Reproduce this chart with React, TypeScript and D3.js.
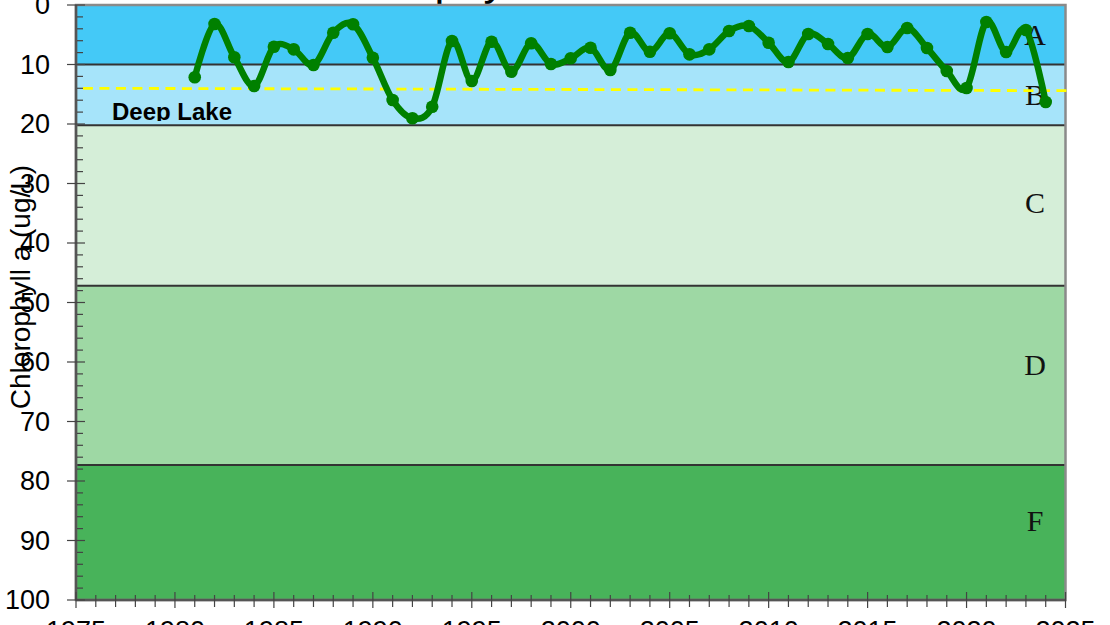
import React from "react";
import * as d3 from "d3";

const years = [1981,1982,1983,1984,1985,1986,1987,1988,1989,1990,1991,1992,1993,1994,1995,1996,1997,1998,1999,2000,2001,2002,2003,2004,2005,2006,2007,2008,2009,2010,2011,2012,2013,2014,2015,2016,2017,2018,2019,2020,2021,2022,2023,2024];
const chlA = [12.15,3.19,8.79,13.61,7.01,7.45,10.08,4.66,3.24,8.86,15.97,19.04,17.09,6.05,12.77,6.17,11.21,6.44,9.92,8.96,7.18,10.92,4.66,7.85,4.76,8.29,7.45,4.37,3.53,6.34,9.58,4.87,6.55,8.91,4.87,7.06,3.87,7.23,11.09,13.95,2.86,7.9,4.2,16.3];

const bandNames = ["A", "B", "C", "D", "F"];
const bandEdges = [0, 10, 20.2, 47.2, 77.3, 100];
const bandColors = ["#44c9f7", "#a6e4fa", "#d5eed8", "#9ed8a4", "#48b35a"];
const bandLabelAt = [5, 15, 33.2, 60.5, 86.6];

const trendYears = [1975.35, 2025.3];
const trendValues = [14.0, 14.4];

const yTicks = [0, 10, 20, 30, 40, 50, 60, 70, 80, 90, 100];
const xTicks = [1975, 1980, 1985, 1990, 1995, 2000, 2005, 2010, 2015, 2020, 2025];

export default function App() {
  const W = 1110, H = 625;
  const x = d3.scaleLinear().domain([1975, 2025]).range([76, 1065.5]);
  const y = d3.scaleLinear().domain([0, 100]).range([5, 600]);
  const [x0, x1] = x.range();
  const [y0, y1] = y.range();

  const line = d3
    .line<number>()
    .x((_, i) => x(years[i]))
    .y((d) => y(d))
    .curve(d3.curveCardinal.tension(0));

  const minorY = d3.range(0, 101, 2).filter((v) => v % 10 !== 0);
  const minorX = d3.range(1975, 2026, 1).filter((v) => v % 5 !== 0);

  return (
    <svg
      width={W}
      height={H}
      style={{ position: "absolute", left: 0, top: 0, background: "#fff" }}
      fontFamily="Arial, 'Liberation Sans', sans-serif"
    >
      <defs>
        <clipPath id="deepclip">
          <rect x={0} y={0} width={W} height={121} />
        </clipPath>
      </defs>
      {/* title (mostly off-canvas) */}
      <text x={305} y={-5.5} fontSize={44} fill="#000">
        Chlorophyll a
      </text>

      {/* bands */}
      {bandNames.map((n, i) => (
        <rect
          key={n}
          x={x0}
          y={y(bandEdges[i])}
          width={x1 - x0}
          height={y(bandEdges[i + 1]) - y(bandEdges[i])}
          fill={bandColors[i]}
        />
      ))}
      {bandEdges.slice(1, -1).map((e) => (
        <line key={e} x1={x0} x2={x1} y1={y(e)} y2={y(e)} stroke="#333" strokeWidth={2} />
      ))}
      {bandNames.map((n, i) => (
        <text
          key={"l" + n}
          x={1035}
          y={y(bandLabelAt[i])}
          dominantBaseline="central"
          textAnchor="middle"
          fontFamily="'Liberation Serif', 'Times New Roman', serif"
          fontSize={30}
          fill="#111"
        >
          {n}
        </text>
      ))}

      {/* frame */}
      <rect x={x0} y={y0} width={x1 - x0} height={y1 - y0} fill="none" stroke="#8a8a8a" strokeWidth={2.5} />

      <text x={112} y={120} fontSize={24} fontWeight="bold" fill="#000" clipPath="url(#deepclip)">
        Deep Lake
      </text>

      {/* trend */}
      <line
        x1={x(trendYears[0])}
        x2={x(trendYears[1])}
        y1={y(trendValues[0])}
        y2={y(trendValues[1])}
        stroke="#ffff00"
        strokeWidth={2.8}
        strokeDasharray="10 6.5"
      />

      {/* axes */}
      <line x1={x0} x2={x0} y1={y0} y2={y1} stroke="#555" strokeWidth={2.5} />
      <line x1={x0} x2={x1} y1={y1} y2={y1} stroke="#555" strokeWidth={2.5} />
      {yTicks.map((t) => (
        <g key={"yt" + t}>
          <line x1={67} x2={85} y1={y(t)} y2={y(t)} stroke="#444" strokeWidth={1.2} />
          <text x={50} y={y(t)} textAnchor="end" dominantBaseline="central" fontSize={27} fill="#000">
            {t}
          </text>
        </g>
      ))}
      {minorY.map((t) => (
        <line key={"ym" + t} x1={77} x2={83} y1={y(t)} y2={y(t)} stroke="#444" strokeWidth={1.2} />
      ))}
      {xTicks.map((t) => (
        <g key={"xt" + t}>
          <line x1={x(t)} x2={x(t)} y1={592} y2={608} stroke="#444" strokeWidth={1.2} />
          <text x={x(t)} y={640} textAnchor="middle" fontSize={27} fill="#000">
            {t}
          </text>
        </g>
      ))}
      {minorX.map((t) => (
        <line key={"xm" + t} x1={x(t)} x2={x(t)} y1={595} y2={607} stroke="#444" strokeWidth={1.2} />
      ))}

      {/* y axis title */}
      <text
        transform={`translate(30, 287) rotate(-90)`}
        textAnchor="middle"
        fontSize={28}
        fill="#000"
      >
        Chlorophyll a (ug/L)
      </text>

      {/* series */}
      <path d={line(chlA) || ""} fill="none" stroke="#008000" strokeWidth={6.5} strokeLinejoin="round" />
      {chlA.map((v, i) => (
        <circle key={"p" + i} cx={x(years[i])} cy={y(v)} r={6.3} fill="#008000" />
      ))}
    </svg>
  );
}
